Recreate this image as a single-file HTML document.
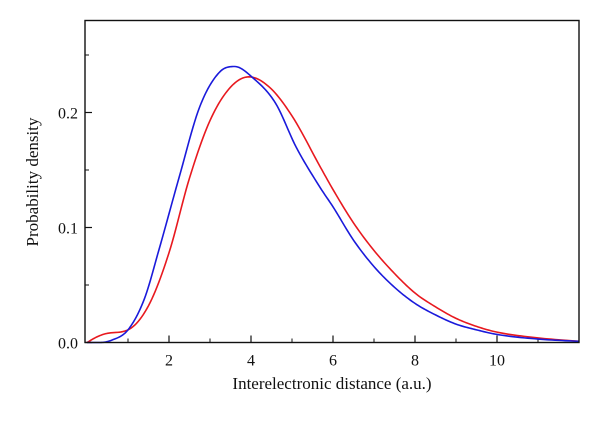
<!DOCTYPE html>
<html><head><meta charset="utf-8"><style>
body{margin:0;background:#fff;}
svg text{font-family:"Liberation Serif",serif;fill:#111;}
</style></head><body>
<svg width="600" height="421">
<g id="axes"></g>
<g id="series"></g>
<rect x="85" y="20.5" width="494" height="322" fill="none" stroke="#111" stroke-width="1.4"/>
<text x="332" y="389" font-size="17" text-anchor="middle">Interelectronic distance (a.u.)</text>
<text transform="translate(38,182) rotate(-90)" font-size="17" text-anchor="middle">Probability density</text>
</svg>
<script>
const xTicks=[2,4,6,8,10];
const xMinor=[1,3,5,7,9,11];
const yTicks=[0,0.1,0.2];
const yTickLabels=["0.0","0.1","0.2"];
const yMinor=[0.05,0.15,0.25];
const blueX=[0,0.3,0.6,1,1.4,1.75,2.25,2.75,3.23,3.6,4.05,4.6,5.1,5.7,6,6.5,7,7.5,8,8.5,9,9.5,10,11,12];
const blueY=[0,0,0.002,0.011,0.038,0.08,0.144,0.205,0.235,0.240,0.230,0.208,0.170,0.134,0.118,0.089,0.066,0.048,0.034,0.024,0.016,0.011,0.007,0.003,0.001];
const redX=[0,0.25,0.5,1,1.5,2,2.5,3,3.5,3.95,4.45,5,5.7,6,6.5,7,7.5,8,8.5,9,9.5,10,11,12];
const redY=[0,0.005,0.008,0.011,0.032,0.078,0.143,0.193,0.222,0.231,0.222,0.197,0.152,0.133,0.104,0.080,0.060,0.043,0.031,0.021,0.014,0.009,0.004,0.001];
const X0=87,Y0=342.5,XS=41,YS=1150;
const sx=v=>X0+v*XS, sy=v=>Y0-v*YS;
const NS="http://www.w3.org/2000/svg";
const ax=document.getElementById('axes'), se=document.getElementById('series');
function mk(t,a,p){const e=document.createElementNS(NS,t);for(const k in a)e.setAttribute(k,a[k]);p.appendChild(e);return e;}
xTicks.forEach(v=>{
 const l=mk('line',{x1:sx(v),x2:sx(v),y1:Y0,y2:Y0-7,stroke:'#111','stroke-width':1.2},ax);
 
 
 const t=mk('text',{x:sx(v),y:Y0+23,'font-size':16,'text-anchor':'middle'},ax);t.textContent=v;
 
 
});
xMinor.forEach(v=>{
 const l=mk('line',{x1:sx(v),x2:sx(v),y1:Y0,y2:Y0-4,stroke:'#111','stroke-width':1},ax);
 
 
});
yTicks.forEach((v,i)=>{
 const l=mk('line',{x1:85,x2:85+7,y1:sy(v),y2:sy(v),stroke:'#111','stroke-width':1.2},ax);
 
 
 const t=mk('text',{x:78,y:sy(v)+6,'font-size':16,'text-anchor':'end'},ax);t.textContent=yTickLabels[i];
 
 
});
yMinor.forEach(v=>{
 const l=mk('line',{x1:85,x2:85+4,y1:sy(v),y2:sy(v),stroke:'#111','stroke-width':1},ax);
 
 
});
function path(xs,ys){
 const n=xs.length,d=[],m=[];
 for(let i=0;i<n-1;i++)d.push((ys[i+1]-ys[i])/(xs[i+1]-xs[i]));
 m[0]=d[0];m[n-1]=d[n-2];
 for(let i=1;i<n-1;i++)m[i]=(d[i-1]*d[i]<=0)?0:(d[i-1]+d[i])/2;
 for(let i=0;i<n-1;i++){
  if(d[i]===0){m[i]=0;m[i+1]=0;continue;}
  const a=m[i]/d[i],b=m[i+1]/d[i],s=a*a+b*b;
  if(s>9){const t=3/Math.sqrt(s);m[i]=t*a*d[i];m[i+1]=t*b*d[i];}
 }
 let p='M'+sx(xs[0])+','+sy(ys[0]);
 for(let i=0;i<n-1;i++){
  const h=xs[i+1]-xs[i];
  for(let k=1;k<=12;k++){
   const t=k/12,t2=t*t,t3=t2*t;
   const y=(2*t3-3*t2+1)*ys[i]+(t3-2*t2+t)*h*m[i]+(-2*t3+3*t2)*ys[i+1]+(t3-t2)*h*m[i+1];
   p+=' L'+sx(xs[i]+t*h).toFixed(2)+','+sy(y).toFixed(2);
  }
 }
 return p;
}
const r=mk('path',{d:path(redX,redY),fill:'none',stroke:'#e8191f','stroke-width':1.6},se);


const b=mk('path',{d:path(blueX,blueY),fill:'none',stroke:'#1a1adb','stroke-width':1.6},se);


</script>
</body></html>
